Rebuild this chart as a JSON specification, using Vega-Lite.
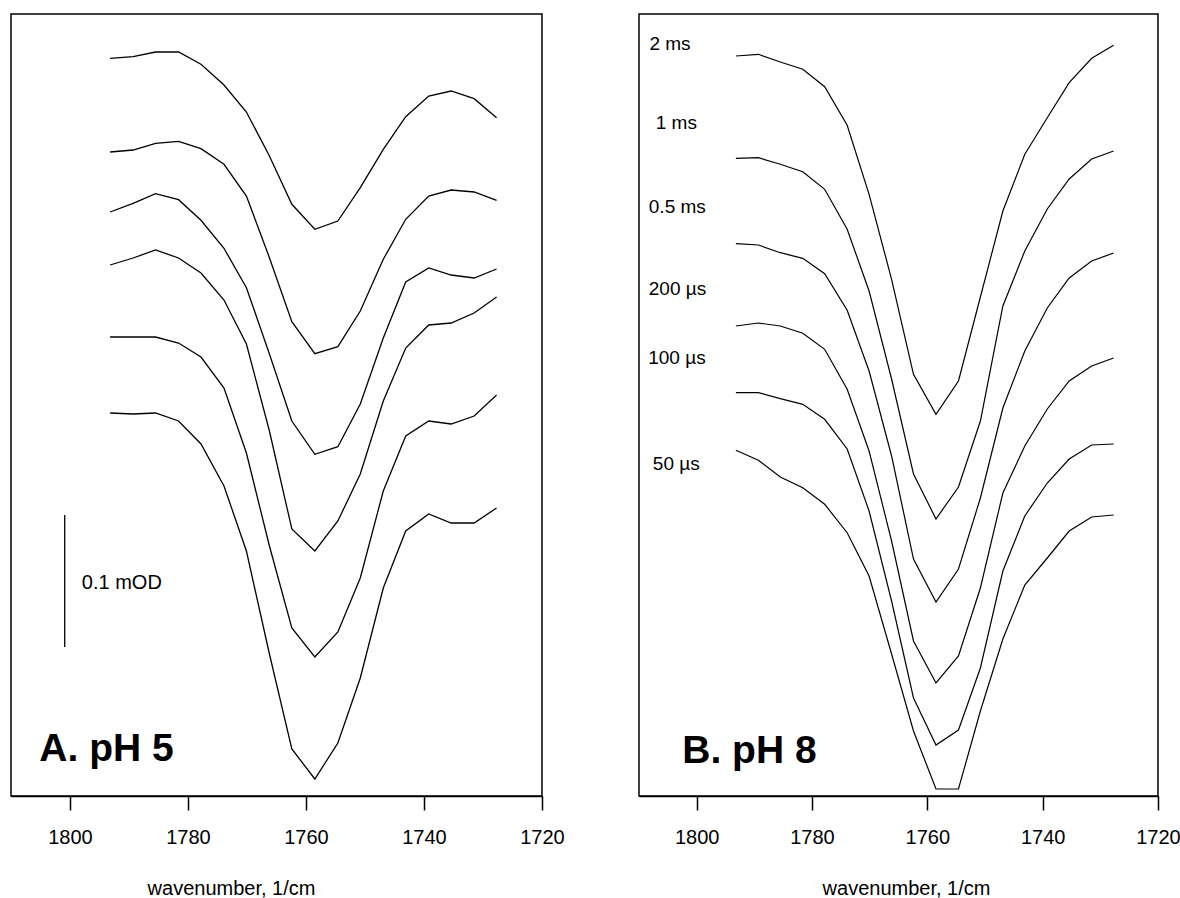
{
  "$schema": "https://vega.github.io/schema/vega-lite/v6.json",
  "padding": {"left": 10, "top": 13, "right": 0, "bottom": 0},
  "background": "white",
  "bounds": "flush",
  "spacing": 97,
  "config": {
    "view": {"stroke": "black", "strokeWidth": 1.5},
    "font": "Liberation Sans",
    "axis": {"grid": false}
  },
  "datasets": {
    "A": [
      {"series": "1", "wn": 1793.2, "s": 737.7}, {"series": "1", "wn": 1789.3, "s": 739.3}, {"series": "1", "wn": 1785.5, "s": 744}, {"series": "1", "wn": 1781.6, "s": 744}, {"series": "1", "wn": 1777.8, "s": 731.7}, {"series": "1", "wn": 1773.9, "s": 711}, {"series": "1", "wn": 1770.1, "s": 684}, {"series": "1", "wn": 1766.2, "s": 640}, {"series": "1", "wn": 1762.4, "s": 591.7}, {"series": "1", "wn": 1758.5, "s": 566.7}, {"series": "1", "wn": 1754.6, "s": 575}, {"series": "1", "wn": 1750.8, "s": 608.3}, {"series": "1", "wn": 1746.9, "s": 646.7}, {"series": "1", "wn": 1743.1, "s": 679.3}, {"series": "1", "wn": 1739.2, "s": 700}, {"series": "1", "wn": 1735.4, "s": 705}, {"series": "1", "wn": 1731.5, "s": 697.3}, {"series": "1", "wn": 1727.7, "s": 678.3},
      {"series": "2", "wn": 1793.2, "s": 644}, {"series": "2", "wn": 1789.3, "s": 646}, {"series": "2", "wn": 1785.5, "s": 652.7}, {"series": "2", "wn": 1781.6, "s": 654.7}, {"series": "2", "wn": 1777.8, "s": 647.3}, {"series": "2", "wn": 1773.9, "s": 631.7}, {"series": "2", "wn": 1770.1, "s": 600}, {"series": "2", "wn": 1766.2, "s": 538.3}, {"series": "2", "wn": 1762.4, "s": 474.3}, {"series": "2", "wn": 1758.5, "s": 442.3}, {"series": "2", "wn": 1754.6, "s": 449.3}, {"series": "2", "wn": 1750.8, "s": 485}, {"series": "2", "wn": 1746.9, "s": 536.7}, {"series": "2", "wn": 1743.1, "s": 576.7}, {"series": "2", "wn": 1739.2, "s": 600}, {"series": "2", "wn": 1735.4, "s": 606}, {"series": "2", "wn": 1731.5, "s": 604}, {"series": "2", "wn": 1727.7, "s": 595.7},
      {"series": "3", "wn": 1793.2, "s": 584}, {"series": "3", "wn": 1789.3, "s": 592.7}, {"series": "3", "wn": 1785.5, "s": 602.3}, {"series": "3", "wn": 1781.6, "s": 596.3}, {"series": "3", "wn": 1777.8, "s": 575.7}, {"series": "3", "wn": 1773.9, "s": 547.7}, {"series": "3", "wn": 1770.1, "s": 508.3}, {"series": "3", "wn": 1766.2, "s": 442}, {"series": "3", "wn": 1762.4, "s": 375}, {"series": "3", "wn": 1758.5, "s": 341.7}, {"series": "3", "wn": 1754.6, "s": 349.3}, {"series": "3", "wn": 1750.8, "s": 392}, {"series": "3", "wn": 1746.9, "s": 458}, {"series": "3", "wn": 1743.1, "s": 514}, {"series": "3", "wn": 1739.2, "s": 528}, {"series": "3", "wn": 1735.4, "s": 521}, {"series": "3", "wn": 1731.5, "s": 518}, {"series": "3", "wn": 1727.7, "s": 527},
      {"series": "4", "wn": 1793.2, "s": 531}, {"series": "4", "wn": 1789.3, "s": 538}, {"series": "4", "wn": 1785.5, "s": 546}, {"series": "4", "wn": 1781.6, "s": 538}, {"series": "4", "wn": 1777.8, "s": 523}, {"series": "4", "wn": 1773.9, "s": 496}, {"series": "4", "wn": 1770.1, "s": 452}, {"series": "4", "wn": 1766.2, "s": 365}, {"series": "4", "wn": 1762.4, "s": 267}, {"series": "4", "wn": 1758.5, "s": 245}, {"series": "4", "wn": 1754.6, "s": 275}, {"series": "4", "wn": 1750.8, "s": 322}, {"series": "4", "wn": 1746.9, "s": 395}, {"series": "4", "wn": 1743.1, "s": 448}, {"series": "4", "wn": 1739.2, "s": 471}, {"series": "4", "wn": 1735.4, "s": 473}, {"series": "4", "wn": 1731.5, "s": 483}, {"series": "4", "wn": 1727.7, "s": 499},
      {"series": "5", "wn": 1793.2, "s": 459}, {"series": "5", "wn": 1789.3, "s": 459}, {"series": "5", "wn": 1785.5, "s": 459}, {"series": "5", "wn": 1781.6, "s": 453}, {"series": "5", "wn": 1777.8, "s": 439}, {"series": "5", "wn": 1773.9, "s": 408}, {"series": "5", "wn": 1770.1, "s": 343}, {"series": "5", "wn": 1766.2, "s": 250}, {"series": "5", "wn": 1762.4, "s": 168}, {"series": "5", "wn": 1758.5, "s": 139}, {"series": "5", "wn": 1754.6, "s": 164}, {"series": "5", "wn": 1750.8, "s": 218}, {"series": "5", "wn": 1746.9, "s": 305}, {"series": "5", "wn": 1743.1, "s": 360}, {"series": "5", "wn": 1739.2, "s": 375}, {"series": "5", "wn": 1735.4, "s": 372}, {"series": "5", "wn": 1731.5, "s": 380}, {"series": "5", "wn": 1727.7, "s": 401},
      {"series": "6", "wn": 1793.2, "s": 383}, {"series": "6", "wn": 1789.3, "s": 382}, {"series": "6", "wn": 1785.5, "s": 383}, {"series": "6", "wn": 1781.6, "s": 375}, {"series": "6", "wn": 1777.8, "s": 352}, {"series": "6", "wn": 1773.9, "s": 310}, {"series": "6", "wn": 1770.1, "s": 245}, {"series": "6", "wn": 1766.2, "s": 142}, {"series": "6", "wn": 1762.4, "s": 47}, {"series": "6", "wn": 1758.5, "s": 17}, {"series": "6", "wn": 1754.6, "s": 53}, {"series": "6", "wn": 1750.8, "s": 118}, {"series": "6", "wn": 1746.9, "s": 208}, {"series": "6", "wn": 1743.1, "s": 265}, {"series": "6", "wn": 1739.2, "s": 282}, {"series": "6", "wn": 1735.4, "s": 273}, {"series": "6", "wn": 1731.5, "s": 273}, {"series": "6", "wn": 1727.7, "s": 288}
    ],
    "B": [
      {"series": "2 ms", "wn": 1793.2, "s": 740}, {"series": "2 ms", "wn": 1789.3, "s": 741.7}, {"series": "2 ms", "wn": 1785.5, "s": 734}, {"series": "2 ms", "wn": 1781.6, "s": 726.7}, {"series": "2 ms", "wn": 1777.8, "s": 709.3}, {"series": "2 ms", "wn": 1773.9, "s": 670.7}, {"series": "2 ms", "wn": 1770.1, "s": 601.7}, {"series": "2 ms", "wn": 1766.2, "s": 516.7}, {"series": "2 ms", "wn": 1762.4, "s": 421.7}, {"series": "2 ms", "wn": 1758.5, "s": 381.7}, {"series": "2 ms", "wn": 1754.6, "s": 415}, {"series": "2 ms", "wn": 1750.8, "s": 499}, {"series": "2 ms", "wn": 1746.9, "s": 585}, {"series": "2 ms", "wn": 1743.1, "s": 641.7}, {"series": "2 ms", "wn": 1739.2, "s": 678.3}, {"series": "2 ms", "wn": 1735.4, "s": 713.3}, {"series": "2 ms", "wn": 1731.5, "s": 737.7}, {"series": "2 ms", "wn": 1727.7, "s": 750.7},
      {"series": "1 ms", "wn": 1793.2, "s": 637.7}, {"series": "1 ms", "wn": 1789.3, "s": 638.3}, {"series": "1 ms", "wn": 1785.5, "s": 631.7}, {"series": "1 ms", "wn": 1781.6, "s": 624.3}, {"series": "1 ms", "wn": 1777.8, "s": 606.7}, {"series": "1 ms", "wn": 1773.9, "s": 566.7}, {"series": "1 ms", "wn": 1770.1, "s": 505}, {"series": "1 ms", "wn": 1766.2, "s": 417}, {"series": "1 ms", "wn": 1762.4, "s": 322}, {"series": "1 ms", "wn": 1758.5, "s": 277}, {"series": "1 ms", "wn": 1754.6, "s": 309}, {"series": "1 ms", "wn": 1750.8, "s": 375}, {"series": "1 ms", "wn": 1746.9, "s": 490}, {"series": "1 ms", "wn": 1743.1, "s": 545}, {"series": "1 ms", "wn": 1739.2, "s": 587}, {"series": "1 ms", "wn": 1735.4, "s": 617}, {"series": "1 ms", "wn": 1731.5, "s": 637}, {"series": "1 ms", "wn": 1727.7, "s": 645},
      {"series": "0.5 ms", "wn": 1793.2, "s": 552.3}, {"series": "0.5 ms", "wn": 1789.3, "s": 551}, {"series": "0.5 ms", "wn": 1785.5, "s": 543.3}, {"series": "0.5 ms", "wn": 1781.6, "s": 537.7}, {"series": "0.5 ms", "wn": 1777.8, "s": 522.3}, {"series": "0.5 ms", "wn": 1773.9, "s": 485.7}, {"series": "0.5 ms", "wn": 1770.1, "s": 425}, {"series": "0.5 ms", "wn": 1766.2, "s": 340}, {"series": "0.5 ms", "wn": 1762.4, "s": 237}, {"series": "0.5 ms", "wn": 1758.5, "s": 194}, {"series": "0.5 ms", "wn": 1754.6, "s": 227}, {"series": "0.5 ms", "wn": 1750.8, "s": 298}, {"series": "0.5 ms", "wn": 1746.9, "s": 388}, {"series": "0.5 ms", "wn": 1743.1, "s": 445}, {"series": "0.5 ms", "wn": 1739.2, "s": 488}, {"series": "0.5 ms", "wn": 1735.4, "s": 518}, {"series": "0.5 ms", "wn": 1731.5, "s": 535}, {"series": "0.5 ms", "wn": 1727.7, "s": 543},
      {"series": "200 µs", "wn": 1793.2, "s": 470}, {"series": "200 µs", "wn": 1789.3, "s": 473}, {"series": "200 µs", "wn": 1785.5, "s": 470}, {"series": "200 µs", "wn": 1781.6, "s": 462.7}, {"series": "200 µs", "wn": 1777.8, "s": 446.7}, {"series": "200 µs", "wn": 1773.9, "s": 406.7}, {"series": "200 µs", "wn": 1770.1, "s": 345}, {"series": "200 µs", "wn": 1766.2, "s": 255}, {"series": "200 µs", "wn": 1762.4, "s": 155}, {"series": "200 µs", "wn": 1758.5, "s": 113}, {"series": "200 µs", "wn": 1754.6, "s": 140}, {"series": "200 µs", "wn": 1750.8, "s": 208}, {"series": "200 µs", "wn": 1746.9, "s": 303}, {"series": "200 µs", "wn": 1743.1, "s": 350}, {"series": "200 µs", "wn": 1739.2, "s": 387}, {"series": "200 µs", "wn": 1735.4, "s": 415}, {"series": "200 µs", "wn": 1731.5, "s": 430}, {"series": "200 µs", "wn": 1727.7, "s": 438},
      {"series": "100 µs", "wn": 1793.2, "s": 403.3}, {"series": "100 µs", "wn": 1789.3, "s": 403.3}, {"series": "100 µs", "wn": 1785.5, "s": 397.3}, {"series": "100 µs", "wn": 1781.6, "s": 391.7}, {"series": "100 µs", "wn": 1777.8, "s": 376.7}, {"series": "100 µs", "wn": 1773.9, "s": 347}, {"series": "100 µs", "wn": 1770.1, "s": 285}, {"series": "100 µs", "wn": 1766.2, "s": 195}, {"series": "100 µs", "wn": 1762.4, "s": 98}, {"series": "100 µs", "wn": 1758.5, "s": 51}, {"series": "100 µs", "wn": 1754.6, "s": 66}, {"series": "100 µs", "wn": 1750.8, "s": 128}, {"series": "100 µs", "wn": 1746.9, "s": 225}, {"series": "100 µs", "wn": 1743.1, "s": 280}, {"series": "100 µs", "wn": 1739.2, "s": 313}, {"series": "100 µs", "wn": 1735.4, "s": 337}, {"series": "100 µs", "wn": 1731.5, "s": 351}, {"series": "100 µs", "wn": 1727.7, "s": 352},
      {"series": "50 µs", "wn": 1793.2, "s": 345.7}, {"series": "50 µs", "wn": 1789.3, "s": 335.7}, {"series": "50 µs", "wn": 1785.5, "s": 319}, {"series": "50 µs", "wn": 1781.6, "s": 308.3}, {"series": "50 µs", "wn": 1777.8, "s": 291.7}, {"series": "50 µs", "wn": 1773.9, "s": 263.3}, {"series": "50 µs", "wn": 1770.1, "s": 220}, {"series": "50 µs", "wn": 1766.2, "s": 142}, {"series": "50 µs", "wn": 1762.4, "s": 65}, {"series": "50 µs", "wn": 1758.5, "s": 7}, {"series": "50 µs", "wn": 1754.6, "s": 7}, {"series": "50 µs", "wn": 1750.8, "s": 85}, {"series": "50 µs", "wn": 1746.9, "s": 157}, {"series": "50 µs", "wn": 1743.1, "s": 211}, {"series": "50 µs", "wn": 1739.2, "s": 238}, {"series": "50 µs", "wn": 1735.4, "s": 265}, {"series": "50 µs", "wn": 1731.5, "s": 279}, {"series": "50 µs", "wn": 1727.7, "s": 281}
    ],
    "Blabels": [
      {"label": "2 ms", "wn": 1808.2, "s": 751.7},
      {"label": "1 ms", "wn": 1807.1, "s": 673.3},
      {"label": "0.5 ms", "wn": 1808.3, "s": 589.3},
      {"label": "200 µs", "wn": 1808.3, "s": 506.7},
      {"label": "100 µs", "wn": 1808.4, "s": 438.3},
      {"label": "50 µs", "wn": 1807.6, "s": 331.7}
    ],
    "Abar": [{"wn": 1800.9, "s": 149, "s2": 281}],
    "Abarlabel": [{"label": "0.1 mOD", "wn": 1798, "s": 213}],
    "Apanel": [{"label": "A. pH 5", "wn": 1805.2, "s": 35}],
    "Bpanel": [{"label": "B. pH 8", "wn": 1802.5, "s": 33}]
  },
  "hconcat": [
    {
      "width": 531,
      "height": 782,
      "encoding": {
        "x": {"field": "wn", "type": "quantitative",
          "scale": {"domain": [1720, 1810], "reverse": true, "nice": false, "zero": false},
          "axis": {"values": [1800, 1780, 1760, 1740, 1720], "format": "d", "title": "wavenumber, 1/cm",
            "labelFontSize": 20, "labelColor": "black", "labelFlush": false, "labelOverlap": false,
            "labelBaseline": "alphabetic", "labelPadding": 33,
            "tickSize": 14, "tickWidth": 1.5, "tickColor": "black",
            "domainColor": "black", "domainWidth": 1.5,
            "titleFontSize": 20, "titleFontWeight": "normal", "titleColor": "black",
            "titleX": 220, "titleY": 98, "titleBaseline": "alphabetic"}},
        "y": {"field": "s", "type": "quantitative", "scale": {"domain": [0, 782], "nice": false, "zero": false}, "axis": null}
      },
      "layer": [
        {
          "data": {"name": "A"},
          "mark": {"type": "line", "color": "black", "strokeWidth": 1.3},
          "encoding": {"detail": {"field": "series"}}
        },
        {
          "data": {"name": "Abar"},
          "mark": {"type": "rule", "color": "black", "strokeWidth": 1.3},
          "encoding": {"y2": {"field": "s2"}}
        },
        {
          "data": {"name": "Abarlabel"},
          "mark": {"type": "text", "align": "left", "baseline": "middle", "fontSize": 20, "color": "black"},
          "encoding": {"text": {"field": "label"}}
        },
        {
          "data": {"name": "Apanel"},
          "mark": {"type": "text", "align": "left", "baseline": "alphabetic", "fontSize": 39, "fontWeight": "bold", "color": "black"},
          "encoding": {"text": {"field": "label"}}
        }
      ]
    },
    {
      "width": 519,
      "height": 782,
      "encoding": {
        "x": {"field": "wn", "type": "quantitative",
          "scale": {"domain": [1720, 1810], "reverse": true, "nice": false, "zero": false},
          "axis": {"values": [1800, 1780, 1760, 1740, 1720], "format": "d", "title": "wavenumber, 1/cm",
            "labelFontSize": 20, "labelColor": "black", "labelFlush": false, "labelOverlap": false,
            "labelBaseline": "alphabetic", "labelPadding": 33,
            "tickSize": 14, "tickWidth": 1.5, "tickColor": "black",
            "domainColor": "black", "domainWidth": 1.5,
            "titleFontSize": 20, "titleFontWeight": "normal", "titleColor": "black",
            "titleX": 267, "titleY": 98, "titleBaseline": "alphabetic"}},
        "y": {"field": "s", "type": "quantitative", "scale": {"domain": [0, 782], "nice": false, "zero": false}, "axis": null}
      },
      "layer": [
        {
          "data": {"name": "B"},
          "mark": {"type": "line", "color": "black", "strokeWidth": 1.2},
          "encoding": {"detail": {"field": "series"}}
        },
        {
          "data": {"name": "Blabels"},
          "mark": {"type": "text", "align": "left", "baseline": "middle", "fontSize": 19, "color": "black"},
          "encoding": {"text": {"field": "label"}}
        },
        {
          "data": {"name": "Bpanel"},
          "mark": {"type": "text", "align": "left", "baseline": "alphabetic", "fontSize": 39, "fontWeight": "bold", "color": "black"},
          "encoding": {"text": {"field": "label"}}
        }
      ]
    }
  ]
}
